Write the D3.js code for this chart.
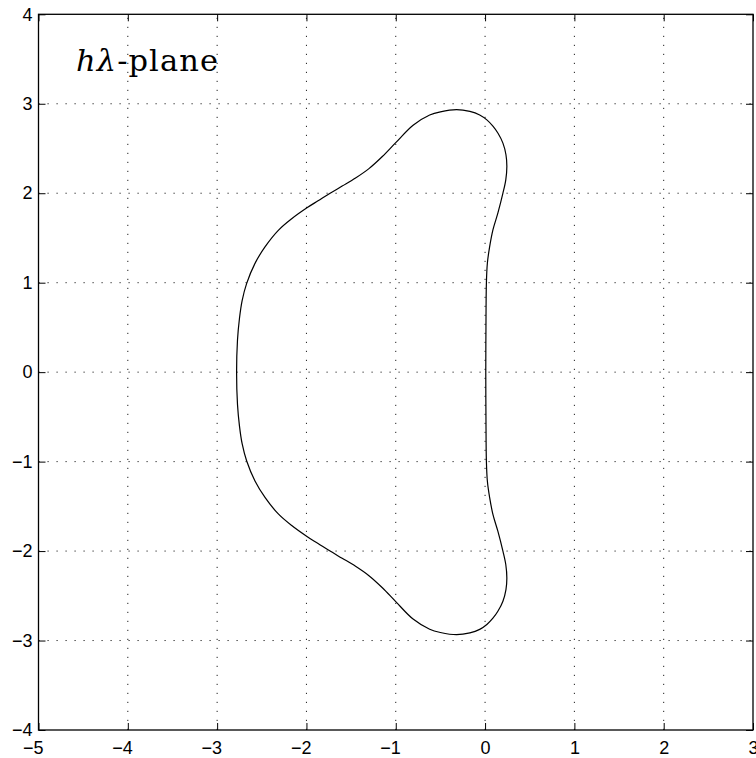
<!DOCTYPE html>
<html>
<head>
<meta charset="utf-8">
<script src="https://cdn.jsdelivr.net/npm/d3@7"></script>
<style>
  html, body { margin: 0; padding: 0; background: #fff; }
  svg { display: block; }
  .tick text { font-family: "Liberation Sans", Arial, Helvetica, sans-serif; font-size: 18px; fill: #000; }
</style>
</head>
<body>
<svg id="chart" width="756" height="758"></svg>
<script>
// Axis ranges and tick values
const xDomain = [-5, 3];
const yDomain = [-4, 4];
const xTicks = [-5, -4, -3, -2, -1, 0, 1, 2, 3];
const yTicks = [-4, -3, -2, -1, 0, 1, 2, 3, 4];

// Boundary of the region, traced counter-clockwise starting on the real axis (right side)
const boundaryRe = [
  0.008, 0.010, 0.015, 0.026, 0.051, 0.088, 0.144, 0.200, 0.232, 0.244, 0.234, 0.200,
  0.145, 0.088, 0.020, -0.060, -0.170, -0.320, -0.500, -0.620, -0.806, -1.000, -1.150,
  -1.300, -1.450, -1.600, -1.735, -1.870, -1.990, -2.165, -2.315, -2.464, -2.576, -2.670,
  -2.720, -2.750, -2.772, -2.782,
  -2.772, -2.750, -2.720, -2.670, -2.576, -2.464, -2.315, -2.165, -1.990, -1.870,
  -1.735, -1.600, -1.450, -1.300, -1.150, -1.000, -0.806, -0.620, -0.500, -0.320, -0.170,
  -0.060, 0.020, 0.088, 0.145, 0.200, 0.234, 0.244, 0.232, 0.200, 0.144, 0.088,
  0.051, 0.026, 0.015, 0.010
];
const boundaryIm = [
  0.00, 0.50, 1.00, 1.22, 1.40, 1.59, 1.78, 2.00, 2.15, 2.30, 2.43, 2.56,
  2.67, 2.75, 2.82, 2.875, 2.915, 2.935, 2.91, 2.874, 2.76, 2.565, 2.41,
  2.275, 2.17, 2.08, 2.00, 1.915, 1.84, 1.715, 1.585, 1.40, 1.216, 0.99,
  0.80, 0.60, 0.36, 0.00,
  -0.36, -0.60, -0.80, -0.99, -1.216, -1.40, -1.585, -1.715, -1.84, -1.915,
  -2.00, -2.08, -2.17, -2.275, -2.41, -2.565, -2.76, -2.874, -2.91, -2.935, -2.915,
  -2.875, -2.82, -2.75, -2.67, -2.56, -2.43, -2.30, -2.15, -2.00, -1.78, -1.59,
  -1.40, -1.22, -1.00, -0.50
];

const svg = d3.select("#chart");
const plotLeft = 38.5, plotRight = 753, plotTop = 14.3, plotBottom = 730;

const x = d3.scaleLinear().domain(xDomain).range([plotLeft, plotRight]);
const y = d3.scaleLinear().domain(yDomain).range([plotBottom, plotTop]);

// Dotted grid at the interior ticks
const grid = svg.append("g")
  .attr("stroke", "#222")
  .attr("stroke-width", 1)
  .attr("stroke-dasharray", "1.2,7.8");
grid.selectAll("line.gx")
  .data(xTicks.filter(t => t > xDomain[0] && t < xDomain[1]))
  .join("line")
  .attr("x1", d => x(d)).attr("x2", d => x(d))
  .attr("y1", plotBottom).attr("y2", plotTop);
grid.selectAll("line.gy")
  .data(yTicks.filter(t => t > yDomain[0] && t < yDomain[1]))
  .join("line")
  .attr("y1", d => y(d)).attr("y2", d => y(d))
  .attr("x1", plotLeft).attr("x2", plotRight);

// Axes with inward ticks on all four sides
const fmt = d3.format("d");
const gx = svg.append("g").attr("transform", `translate(0,${plotBottom})`)
  .call(d3.axisBottom(x).tickValues(xTicks).tickSize(-7).tickPadding(11).tickFormat(fmt));
gx.selectAll(".tick text").attr("dx", d => d < 0 ? "-0.32em" : 0);

svg.append("g").attr("transform", `translate(${plotLeft},0)`)
  .call(d3.axisLeft(y).tickValues(yTicks).tickSize(-7).tickPadding(6).tickFormat(fmt));

svg.append("g").attr("transform", `translate(0,${plotTop})`)
  .call(d3.axisTop(x).tickValues(xTicks).tickSize(-7).tickFormat(""));
svg.append("g").attr("transform", `translate(${plotRight},0)`)
  .call(d3.axisRight(y).tickValues(yTicks).tickSize(-7).tickFormat(""));

svg.selectAll(".domain").remove();
svg.selectAll(".tick line").attr("stroke", "#000").attr("stroke-width", 1);

// Plot frame
svg.append("rect")
  .attr("x", plotLeft).attr("y", plotTop)
  .attr("width", plotRight - plotLeft).attr("height", plotBottom - plotTop)
  .attr("fill", "none").attr("stroke", "#000").attr("stroke-width", 1.3);

// Boundary curve
const pts = boundaryRe.map((r, i) => [r, boundaryIm[i]]);
svg.append("path")
  .datum(pts)
  .attr("fill", "none")
  .attr("stroke", "#000")
  .attr("stroke-width", 1.2)
  .attr("d", d3.line().x(d => x(d[0])).y(d => y(d[1])).curve(d3.curveCatmullRomClosed.alpha(0.5)));

// Plane label
const label = svg.append("text")
  .attr("x", 76).attr("y", 70.5)
  .attr("font-family", "'DejaVu Serif', 'Liberation Serif', serif")
  .attr("font-size", 30.5)
  .attr("textLength", 142)
  .attr("lengthAdjust", "spacing")
  .attr("fill", "#000");
label.append("tspan").attr("font-style", "italic").text("h");
label.append("tspan").attr("font-style", "italic").text("λ");
label.append("tspan").text("-plane");
</script>
</body>
</html>
